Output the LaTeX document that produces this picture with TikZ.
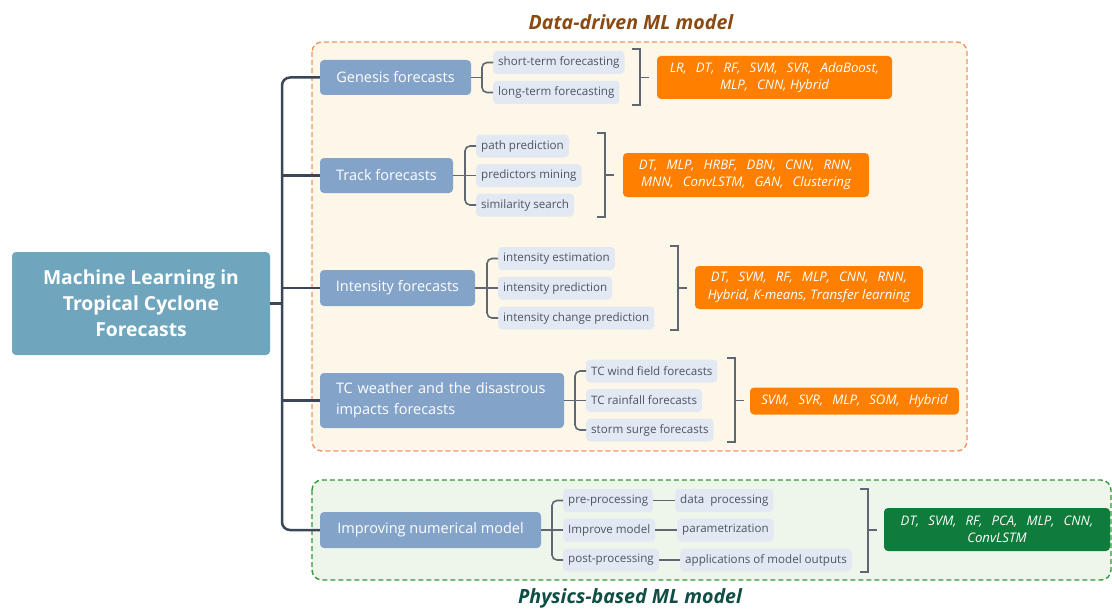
\documentclass[tikz,border=0pt]{standalone}
\usepackage{fontspec}
\setmainfont{Open Sans}
\usetikzlibrary{calc}
\definecolor{rootc}{HTML}{6FA6BD}
\definecolor{catc}{HTML}{84A3C9}
\definecolor{subc}{HTML}{E3E9F2}
\definecolor{subt}{HTML}{4B5563}
\definecolor{trunkc}{HTML}{3B4758}
\definecolor{brkc}{HTML}{5F6772}
\definecolor{orc}{HTML}{FF8000}
\definecolor{grc}{HTML}{0E7C3B}
\definecolor{odash}{HTML}{F4925F}
\definecolor{ofill}{HTML}{FCF7E8}
\definecolor{gdash}{HTML}{2F9A38}
\definecolor{gfill}{HTML}{EEF6EC}
\definecolor{t1c}{HTML}{8B4A12}
\definecolor{t2c}{HTML}{0F4D45}
\newcommand\zc{,\hspace{0.68em}}
\tikzset{
  rootbox/.style={fill=rootc, rounded corners=4, text=white, font=\fontsize{19.3}{26}\selectfont\bfseries, align=center, minimum width=258, minimum height=103, inner sep=0},
  catbox/.style={fill=catc, rounded corners=4, text=white, font=\fontsize{14.5}{19}\selectfont, inner sep=0},
  subbox/.style={fill=subc, rounded corners=4, text=subt, font=\fontsize{11.6}{14}\selectfont, minimum height=23, inner xsep=5, inner ysep=0, anchor=west},
  methbox/.style={rounded corners=4, text=white, font=\fontsize{13.2}{17.5}\selectfont\itshape, align=center, inner sep=0},
  ormeth/.style={methbox, fill=orc},
  grmeth/.style={methbox, fill=grc},
  trunk/.style={draw=trunkc, line width=2.5, rounded corners=8},
  brk/.style={draw=brkc, line width=1.6, rounded corners=5},
  rbrk/.style={draw=brkc, line width=1.6},
  ttl/.style={font=\fontsize{19.6}{22}\selectfont\bfseries\itshape},
}
\begin{document}
\begin{tikzpicture}[x=1pt,y=-1pt]
\useasboundingbox (0,0) rectangle (1112,610);
% group frames
\draw[draw=odash, fill=ofill, line width=1.4, dash pattern=on 5 off 3, rounded corners=10] (312,42) rectangle (967,451);
\draw[draw=gdash, fill=gfill, line width=1.4, dash pattern=on 5 off 3, rounded corners=10] (312,480) rectangle (1111,580);
\node[ttl, text=t1c] (title1) at (631,22) {Data-driven ML model};
\node[ttl, text=t2c] (title2) at (630,598) {Physics-based ML model};
% root
\node[rootbox] (root) at (141,303.5) {Machine Learning in\\Tropical Cyclone\\Forecasts};
% categories
\node[catbox, minimum width=151, minimum height=35] (gen) at (395.5,77.5) {Genesis forecasts};
\node[catbox, minimum width=133, minimum height=35] (trk) at (386.5,175.5) {Track forecasts};
\node[catbox, minimum width=155, minimum height=36] (int) at (397.5,288) {Intensity forecasts};
\node[catbox, minimum width=244, minimum height=55, text width=212, inner xsep=16, align=left, font=\fontsize{14.5}{21}\selectfont] (wth) at (442,400.5) {TC weather and the disastrous\\impacts forecasts};
\node[catbox, minimum width=221, minimum height=36] (imp) at (430.5,530) {Improving numerical model};
% sub items
\node[subbox] (g1) at (493,62.5) {short-term forecasting};
\node[subbox] (g2) at (493,92.5) {long-term forecasting};
\node[subbox] (t1) at (476,146) {path prediction};
\node[subbox] (t2) at (476,175.5) {predictors mining};
\node[subbox] (t3) at (476,205) {similarity search};
\node[subbox] (i1) at (498,258.5) {intensity estimation};
\node[subbox] (i2) at (498,288) {intensity prediction};
\node[subbox] (i3) at (498,318) {intensity change prediction};
\node[subbox] (w1) at (586,371) {TC wind field forecasts};
\node[subbox] (w2) at (586,400.5) {TC rainfall forecasts};
\node[subbox] (w3) at (586,430) {storm surge forecasts};
\node[subbox] (p1) at (563,500.5) {pre-processing};
\node[subbox] (p2) at (563,530) {Improve model};
\node[subbox] (p3) at (563,560) {post-processing};
\node[subbox] (q1) at (675,500.5) {data~ processing};
\node[subbox] (q2) at (677,530) {parametrization};
\node[subbox] (q3) at (680,560) {applications of model outputs};
% method boxes
\node[ormeth, minimum width=235, minimum height=43] (mg) at (774.5,77.5) {LR\zc DT\zc RF\zc SVM\zc SVR\zc AdaBoost,\\MLP\zc CNN, Hybrid};
\node[ormeth, minimum width=246, minimum height=44] (mt) at (746,175) {DT\zc MLP\zc HRBF\zc DBN\zc CNN\zc RNN\zc\\MNN\zc ConvLSTM\zc GAN\zc Clustering};
\node[ormeth, minimum width=228, minimum height=43] (mi) at (809,287.5) {DT\zc SVM\zc RF\zc MLP\zc CNN\zc RNN\zc\\Hybrid,\ K-means, Transfer learning};
\node[ormeth, minimum width=209, minimum height=27] (mw) at (854.5,401) {SVM\zc SVR\zc MLP\zc SOM\zc Hybrid};
\node[grmeth, minimum width=226, minimum height=43] (mp) at (997,529.5) {DT\zc SVM\zc RF\zc PCA\zc MLP\zc CNN\zc\\ConvLSTM};
% trunk
\coordinate (tj) at (282,303.5);
\draw[trunk] (root.east) -- (tj);
\draw[trunk] (gen.west) -| (tj) |- (imp.west);
\draw[trunk] (trk.west) -- (trk.west -| tj);
\draw[trunk] (int.west) -- (int.west -| tj);
\draw[trunk] (wth.west) -- (wth.west -| tj);
% left brackets
\coordinate (gb) at (482,77.5);
\draw[brk] (gen.east) -- (gb);
\draw[brk] (g1.west) -| (gb) |- (g2.west);
\coordinate (tb) at (465,175.5);
\draw[brk] (trk.east) -- (tb) -- (t2.west);
\draw[brk] (t1.west) -| (tb) |- (t3.west);
\coordinate (ib) at (487,288);
\draw[brk] (int.east) -- (ib) -- (i2.west);
\draw[brk] (i1.west) -| (ib) |- (i3.west);
\coordinate (wb) at (575,400.5);
\draw[brk] (wth.east) -- (wb) -- (w2.west);
\draw[brk] (w1.west) -| (wb) |- (w3.west);
\coordinate (pb) at (552,530);
\draw[brk] (imp.east) -- (pb) -- (p2.west);
\draw[brk] (p1.west) -| (pb) |- (p3.west);
\draw[brk] (p1.east) -- (q1.west);
\draw[brk] (p2.east) -- (q2.west);
\draw[brk] (p3.east) -- (q3.west);
% right brackets
\foreach \nm/\x/\ya/\yb/\ym in {rg/640/49/105/77.5, rt/605/133/217/175, ri/678/246/330/288, rw/735/358/442/400.5, rp/868/489/572/530}{
  \coordinate (\nm top) at (\x,\ya);
  \coordinate (\nm bot) at (\x,\yb);
  \coordinate (\nm mid) at (\x,\ym);
  \coordinate (\nm tip) at (\x+9,\ym);
  \draw[rbrk] ($(\nm top)+(-8,0)$) -- (\nm top) -- (\nm bot) -- ($(\nm bot)+(-8,0)$);
  \draw[rbrk] (\nm mid) -- (\nm tip);
}
\end{tikzpicture}
\end{document}
